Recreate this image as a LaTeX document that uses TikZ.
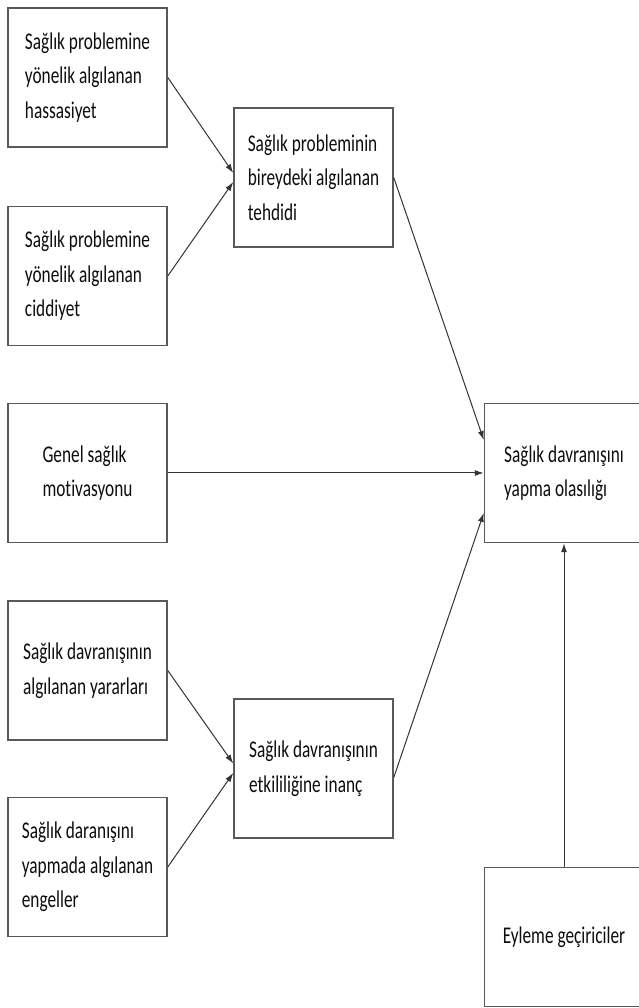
\documentclass[tikz,border=0pt]{standalone}
\usepackage{fontspec}
\setmainfont{Carlito}[FakeStretch=0.72, Ligatures=NoCommon]
\usetikzlibrary{arrows.meta}

\begin{document}
\begin{tikzpicture}[
            x=1pt, y=1pt,
            box/.style={draw=black!65, line width=1.5pt, minimum width=159pt, minimum height=139pt,
                align=left, text=black!95, font=\fontsize{24}{34.5}\selectfont},
            link/.style={draw=black!80, line width=1pt, -{Latex[length=9pt,width=6pt]}},
            ]
            \useasboundingbox (0,0) rectangle (639,1008);
            % left column
            \node[box] (hassas) at (87.5, 930.5) {Sağlık problemine\\yönelik algılanan\\hassasiyet};
            \node[box] (ciddi) at (87.5, 732) {Sağlık problemine\\yönelik algılanan\\ciddiyet};
            \node[box] (motiv) at (87.5, 535) {Genel sağlık\\motivasyonu};
            \node[box] (yarar) at (87.5, 337.5) {Sağlık davranışının\\algılanan yararları};
            \node[box] (engel) at (87.5, 141) {Sağlık daranışını\\yapmada algılanan\\engeller};
            % middle column
            \node[box] (tehdit) at (313.5, 830.5) {Sağlık probleminin\\bireydeki algılanan\\tehdidi};
            \node[box] (inanc) at (313.5, 239.5) {Sağlık davranışının\\etkililiğine inanç};
            % right column
            \node[box] (olasilik) at (564, 535) {Sağlık davranışını\\yapma olasılığı};
            \node[box] (eylem) at (564, 71) {Eyleme geçiriciler};

            \draw[link] (hassas.east) -- ([yshift=4.5pt]tehdit.west);
            \draw[link] (ciddi.east) -- ([yshift=-4.5pt]tehdit.west);
            \draw[link] (yarar.east) -- ([yshift=5pt]inanc.west);
            \draw[link] (engel.east) -- ([yshift=-4.5pt]inanc.west);
            \draw[link] (tehdit.east) -- ([yshift=33pt]olasilik.west);
            \draw[link] (motiv.east) -- (olasilik.west);
            \draw[link] ([yshift=-9pt]inanc.east) -- ([yshift=-40pt]olasilik.west);
            \draw[link] (eylem.north) -- (olasilik.south);
\end{tikzpicture}
\end{document}
